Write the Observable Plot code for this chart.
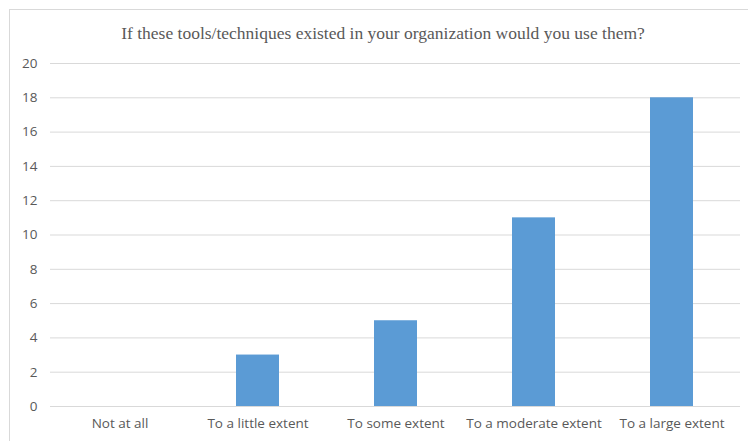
<!DOCTYPE html>
<html>
<head>
<meta charset="utf-8">
<script src="https://cdn.jsdelivr.net/npm/d3@7"></script>
<script src="https://cdn.jsdelivr.net/npm/@observablehq/plot@0.6"></script>
<style>
  html, body { margin: 0; padding: 0; background: #fff; }
  #wrap { position: relative; width: 748px; height: 441px; overflow: hidden; }
  #frame { position: absolute; left: 9px; top: 9px; width: 745px; height: 445px; border: 1px solid #d9d9d9; box-sizing: border-box; }
  #title { position: absolute; left: 0; width: 766px; top: 23px; text-align: center; font-family: "Liberation Serif", serif; font-size: 17.5px; color: #595959; }
  #chart { position: absolute; left: 0; top: 0; }
</style>
</head>
<body>
<div id="wrap">
  <div id="frame"></div>
  <div id="title">If these tools/techniques existed in your organization would you use them?</div>
  <div id="chart"></div>
</div>
<script>
const categories = ["Not at all", "To a little extent", "To some extent", "To a moderate extent", "To a large extent"];
const counts = [0, 3, 5, 11, 18];
const yTicks = [0, 2, 4, 6, 8, 10, 12, 14, 16, 18, 20];

const data = categories.map((c, i) => ({category: c, count: counts[i]}));

const chart = Plot.plot({
  width: 748,
  height: 441,
  marginTop: 63,
  marginBottom: 35,
  marginLeft: 50,
  marginRight: 8,
  style: {fontFamily: "'Open Sans', sans-serif", fontSize: "13.5px", color: "#595959", background: "transparent"},
  x: {domain: categories, paddingInner: 0.69, paddingOuter: 0.345, label: null},
  y: {domain: [0, 20], label: null},
  marks: [
    Plot.gridY(yTicks, {stroke: "#d9d9d9", strokeOpacity: 1}),
    Plot.barY(data, {x: "category", y: "count", fill: "#5B9BD5"}),
    Plot.ruleY([0], {stroke: "#d9d9d9"}),
    Plot.axisY(yTicks, {tickSize: 0, tickPadding: 13, label: null, fill: "#595959"}),
    Plot.axisX({tickSize: 0, tickPadding: 12, label: null, fill: "#595959"})
  ]
});
document.getElementById("chart").appendChild(chart);
</script>
</body>
</html>
